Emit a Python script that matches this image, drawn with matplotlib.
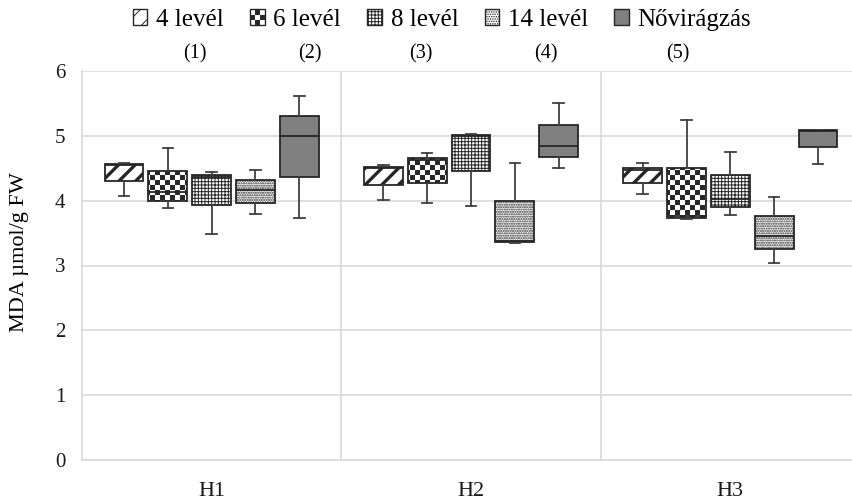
import numpy as np
import matplotlib
matplotlib.use('Agg')
import matplotlib.pyplot as plt
import matplotlib.hatch as mhatch
from matplotlib.path import Path
from matplotlib.patches import Patch

plt.rcParams['font.family'] = ['Liberation Serif', 'DejaVu Serif']
plt.rcParams['hatch.linewidth'] = 0.7
plt.rcParams['hatch.color'] = 'black'

groups = ['H1', 'H2', 'H3']
series = ['4 levél', '6 levél', '8 levél', '14 levél', 'Nővirágzás']
notes = ['(1)', '(2)', '(3)', '(4)', '(5)']

# five-number summaries per series, one entry per group H1, H2, H3
lev4_lo = [4.07, 4.01, 4.10]
lev4_q1 = [4.31, 4.24, 4.28]
lev4_med = [4.55, 4.50, 4.48]
lev4_q3 = [4.57, 4.52, 4.51]
lev4_hi = [4.58, 4.55, 4.58]

lev6_lo = [3.88, 3.96, 3.71]
lev6_q1 = [3.99, 4.28, 3.74]
lev6_med = [4.13, 4.63, 3.76]
lev6_q3 = [4.45, 4.66, 4.50]
lev6_hi = [4.81, 4.73, 5.25]

lev8_lo = [3.49, 3.92, 3.78]
lev8_q1 = [3.93, 4.46, 3.90]
lev8_med = [4.37, 4.99, 4.03]
lev8_q3 = [4.39, 5.01, 4.39]
lev8_hi = [4.44, 5.03, 4.75]

lev14_lo = [3.80, 3.34, 3.04]
lev14_q1 = [3.97, 3.36, 3.25]
lev14_med = [4.16, 3.38, 3.45]
lev14_q3 = [4.32, 3.99, 3.76]
lev14_hi = [4.47, 4.58, 4.06]

novir_lo = [3.73, 4.50, 4.57]
novir_q1 = [4.36, 4.67, 4.83]
novir_med = [4.99, 4.84, 5.07]
novir_q3 = [5.30, 5.17, 5.09]
novir_hi = [5.62, 5.50, 5.09]


# Excel-like checkerboard fill; takes the place of the large-circle hatch 'O'
class CheckerHatch(mhatch.HatchPatternBase):
    def __init__(self, hatch, density):
        self.cells = 20 if 'O' in hatch else 0
        self.num_vertices = (self.cells ** 2 // 2) * 5

    def set_vertices_and_codes(self, vertices, codes):
        s = 1.0 / self.cells
        d = 0.005  # shrink a bit, the stroke grows the squares again
        k = 0
        for i in range(self.cells):
            for j in range(self.cells):
                if (i + j) % 2:
                    continue
                x, y = i * s + d, j * s + d
                w = s - 2 * d
                vertices[k:k + 5] = [(x, y), (x + w, y), (x + w, y + w), (x, y + w), (x, y)]
                codes[k:k + 5] = [Path.MOVETO, Path.LINETO, Path.LINETO,
                                  Path.LINETO, Path.CLOSEPOLY]
                k += 5


mhatch._hatch_types = [t for t in mhatch._hatch_types if t is not mhatch.LargeCircles]
mhatch._hatch_types.append(CheckerHatch)

summaries = [
    (lev4_lo, lev4_q1, lev4_med, lev4_q3, lev4_hi),
    (lev6_lo, lev6_q1, lev6_med, lev6_q3, lev6_hi),
    (lev8_lo, lev8_q1, lev8_med, lev8_q3, lev8_hi),
    (lev14_lo, lev14_q1, lev14_med, lev14_q3, lev14_hi),
    (novir_lo, novir_q1, novir_med, novir_q3, novir_hi),
]
hatches = ['//', 'O', '+++++', '.......', None]
hatch_lw = [2.4, 0.7, 0.7, 1.0, 0.7]
faces = ['white', 'white', 'white', 'white', '#808080']
edge = '#262626'


def set_hatch_lw(patch, lw):
    if hasattr(patch, 'set_hatch_linewidth'):
        patch.set_hatch_linewidth(lw)


fig = plt.figure(figsize=(8.53, 5), dpi=100)
ax = fig.add_axes([82 / 853, 40 / 500, 778 / 853, 389 / 500])

x = np.arange(1, len(groups) + 1)
step = 0.169
for i, (lo, q1, med, q3, hi) in enumerate(summaries):
    stats = []
    for g in range(len(groups)):
        stats.append({'whislo': lo[g], 'q1': q1[g], 'med': med[g],
                      'q3': q3[g], 'whishi': hi[g], 'fliers': []})
    pos = x + (i - 2) * step
    bp = ax.bxp(stats, positions=pos, widths=0.15, capwidths=0.04,
                patch_artist=True, showfliers=False,
                boxprops=dict(facecolor=faces[i], edgecolor=edge, linewidth=1.3, hatch=hatches[i]),
                medianprops=dict(color=edge, linewidth=1.3),
                whiskerprops=dict(color='#404040', linewidth=1.3),
                capprops=dict(color='#404040', linewidth=1.3),
                manage_ticks=False, zorder=3)
    for b in bp['boxes']:
        set_hatch_lw(b, hatch_lw[i])

ax.set_xlim(0.5, 3.5)
ax.set_ylim(0, 6)
ax.set_yticks(range(7))
ax.set_xticks(x)
ax.set_xticklabels(groups)
ax.set_xticks([1.5, 2.5], minor=True)
ax.grid(axis='y', color='#d9d9d9', linewidth=1.2)
ax.grid(axis='x', which='minor', color='#d9d9d9', linewidth=1.2)
ax.set_axisbelow(True)
ax.tick_params(which='both', length=0, colors='#1a1a1a')
ax.tick_params(axis='x', pad=16, labelsize=16)
ax.tick_params(axis='y', pad=12, labelsize=15)
for side in ['top', 'right']:
    ax.spines[side].set_visible(False)
for side in ['left', 'bottom']:
    ax.spines[side].set_color('#d9d9d9')
    ax.spines[side].set_linewidth(1.2)
ax.set_ylabel('MDA µmol/g FW', fontsize=16)
ax.yaxis.set_label_coords(-0.068, 0.535)

handles = [Patch(facecolor=faces[i], edgecolor=edge, hatch=hatches[i], linewidth=1)
           for i in range(len(series))]
for h, lw in zip(handles, hatch_lw):
    set_hatch_lw(h, min(lw, 1.6))
fig.legend(handles, series, loc='center', bbox_to_anchor=(442 / 853, 1 - 20 / 500),
           ncol=5, frameon=False, fontsize=18, handlelength=0.58, handleheight=0.58,
           handletextpad=0.35, columnspacing=1.05, borderpad=0)

note_x = [195, 310, 421, 546, 678]
for n, px in zip(notes, note_x):
    fig.text(px / 853, 1 - 54 / 500, n, ha='center', va='center', fontsize=14.5)

fig.savefig('out.png', dpi=100)
